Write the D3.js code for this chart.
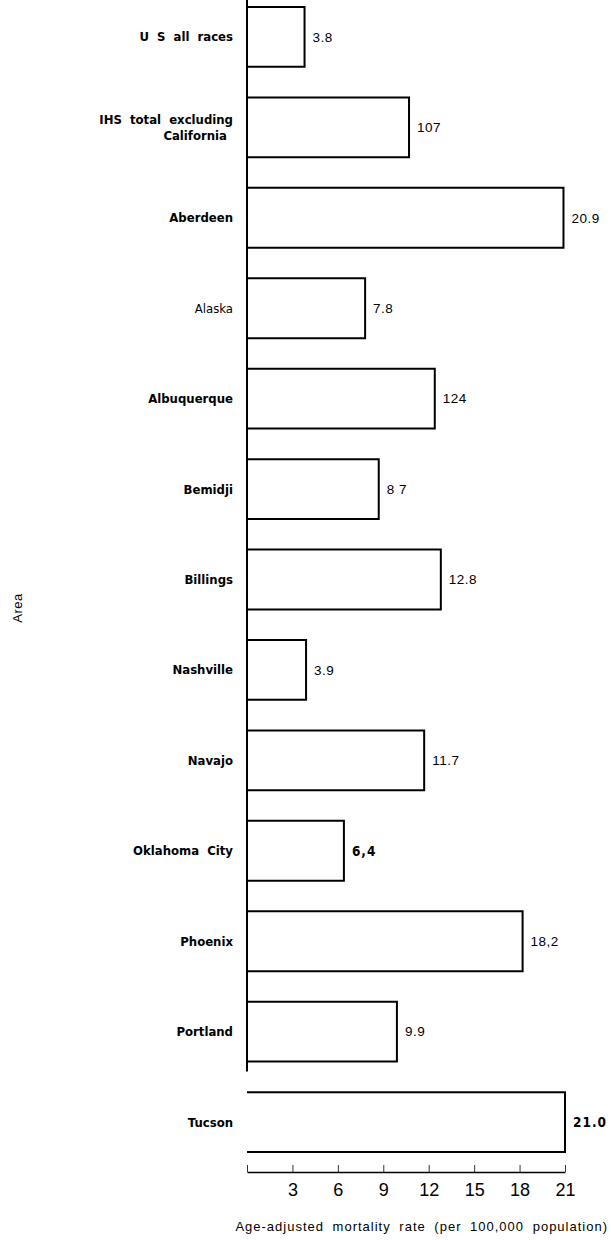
<!DOCTYPE html>
<html>
<head>
<meta charset="utf-8">
<script src="https://cdn.jsdelivr.net/npm/d3@7"></script>
<style>
  body { margin: 0; background: #fff; }
</style>
</head>
<body>
<div class="chart-container"></div>
<script>
const areas = [
  "U S all races",
  "IHS total excluding|California",
  "Aberdeen",
  "Alaska",
  "Albuquerque",
  "Bemidji",
  "Billings",
  "Nashville",
  "Navajo",
  "Oklahoma City",
  "Phoenix",
  "Portland",
  "Tucson"
];
const rates = [3.8, 10.7, 20.9, 7.8, 12.4, 8.7, 12.8, 3.9, 11.7, 6.4, 18.2, 9.9, 21.0];
// value labels as printed in the scanned original
const rateLabels = ["3.8", "107", "20.9", "7.8", "124", "8 7", "12.8", "3.9", "11.7", "6,4", "18,2", "9.9", "21.0"];
const boldLabel = [false, false, false, false, false, false, false, false, false, true, false, false, true];
const regularAreas = ["Alaska"];
const xTicks = [0, 3, 6, 9, 12, 15, 18, 21];

const margin = { top: 0, right: 46, bottom: 68, left: 247 },
  width = 611 - margin.left - margin.right,
  height = 1240 - margin.top - margin.bottom;

const svg = d3
  .select(".chart-container")
  .append("svg")
  .attr("width", 611)
  .attr("height", 1240)
  .append("g")
  .attr("transform", "translate(" + margin.left + "," + margin.top + ")");

const x = d3.scaleLinear().domain([0, 21]).range([0, 318]);

const y = d3
  .scaleBand()
  .domain(areas)
  .range([7, 1152])
  .paddingInner(0.338)
  .paddingOuter(0);

// open bars: top, right and bottom edges, the axis closes the left side
svg
  .selectAll(".bar")
  .data(areas)
  .enter()
  .append("path")
  .attr("class", "bar")
  .attr("fill", "none")
  .attr("stroke", "#000")
  .attr("stroke-width", 2)
  .attr("d", (d, i) => {
    const y0 = y(d), y1 = y(d) + y.bandwidth(), x1 = x(rates[i]);
    return "M0," + y0 + "H" + x1 + "V" + y1 + "H0";
  });

svg
  .selectAll(".value")
  .data(areas)
  .enter()
  .append("text")
  .attr("class", "value")
  .attr("x", (d, i) => x(rates[i]) + 8)
  .attr("y", d => y(d) + y.bandwidth() / 2)
  .attr("dy", "0.35em")
  .style("font-family", (d, i) =>
    boldLabel[i] ? "'Liberation Sans Narrow', 'DejaVu Sans Condensed', sans-serif" : "'Liberation Sans', Arial, sans-serif")
  .style("font-weight", (d, i) => (boldLabel[i] ? "bold" : "normal"))
  .style("letter-spacing", (d, i) => (boldLabel[i] ? "1px" : "0.5px"))
  .style("font-size", "13.5px")
  .text((d, i) => rateLabels[i]);

// category labels
const cat = svg
  .selectAll(".cat")
  .data(areas)
  .enter()
  .append("text")
  .attr("class", "cat")
  .attr("text-anchor", "end")
  .attr("x", -14)
  .attr("y", d => y(d) + y.bandwidth() / 2)
  .style("font-family", "'Liberation Sans Narrow', 'DejaVu Sans Condensed', sans-serif")
  .style("font-weight", d => (regularAreas.includes(d) ? "normal" : "bold"))
  .style("font-size", "13px")
  .style("word-spacing", "4px");

cat.each(function (d) {
  const lines = d.split("|");
  const t = d3.select(this);
  lines.forEach((line, j) => {
    t.append("tspan")
      .attr("x", j === 0 ? -14 : -20)
      .attr("dy", j === 0 ? (0.35 - (lines.length - 1) * 0.6) + "em" : "1.2em")
      .text(line);
  });
});

// vertical axis line
svg
  .append("line")
  .attr("x1", 0)
  .attr("x2", 0)
  .attr("y1", 0)
  .attr("y2", y("Portland") + y.bandwidth() + 10)
  .attr("stroke", "#000")
  .attr("stroke-width", 2);

// x axis
const xAxis = d3
  .axisBottom(x)
  .tickValues(xTicks)
  .tickSize(0)
  .tickPadding(11)
  .tickFormat(d => (d === 0 ? "" : d));

const gx = svg
  .append("g")
  .attr("transform", "translate(0," + height + ")")
  .call(xAxis);

gx.select(".domain").attr("stroke", "#000").attr("stroke-width", 1.5);
gx.selectAll(".tick line").remove();
gx.selectAll(".tick")
  .append("line")
  .attr("y1", 0)
  .attr("y2", -7)
  .attr("stroke", "#000")
  .attr("stroke-width", 0.8);
gx.selectAll(".tick text")
  .style("font-family", "'Liberation Sans', Arial, sans-serif")
  .style("font-size", "18px")
  .style("fill", "#000");

svg
  .append("text")
  .attr("x", 361)
  .attr("y", height + 59)
  .attr("text-anchor", "end")
  .style("font-family", "'Liberation Sans', Arial, sans-serif")
  .style("font-size", "13px")
  .style("letter-spacing", "1px")
  .style("word-spacing", "4px")
  .text("Age-adjusted mortality rate (per 100,000 population)");

svg
  .append("text")
  .attr("transform", "translate(" + (-225) + "," + 608 + ") rotate(-90)")
  .attr("text-anchor", "middle")
  .style("font-family", "'Liberation Sans', Arial, sans-serif")
  .style("font-size", "13px")
  .style("letter-spacing", "0.5px")
  .text("Area");
</script>
</body>
</html>
